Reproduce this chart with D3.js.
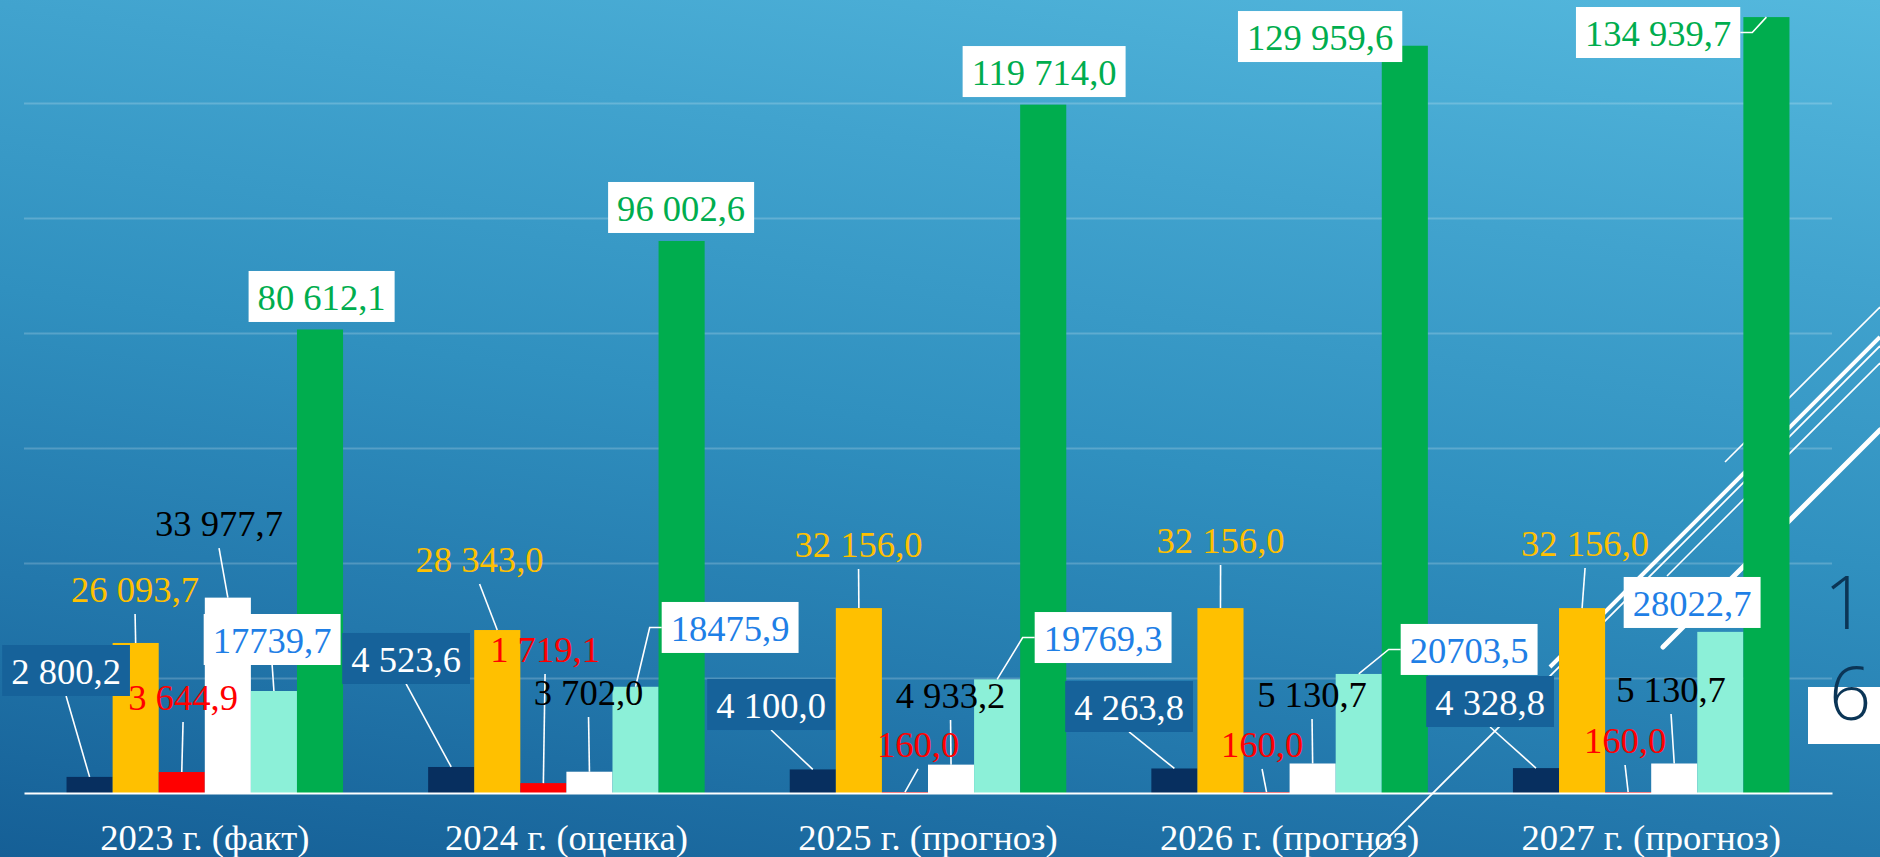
<!DOCTYPE html>
<html>
<head>
<meta charset="utf-8">
<script src="https://cdn.jsdelivr.net/npm/d3@7"></script>
<style>
html,body{margin:0;padding:0;overflow:hidden;background:#2a86b8;}
svg{display:block;}
</style>
</head>
<body>
<svg id="chart" width="1880" height="857"></svg>
<script>
// ---------------- DATA ----------------
const categories = ["2023 г. (факт)", "2024 г. (оценка)", "2025 г. (прогноз)", "2026 г. (прогноз)", "2027 г. (прогноз)"];
const seriesNavy   = [2800.2, 4523.6, 4100.0, 4263.8, 4328.8];
const seriesYellow = [26093.7, 28343.0, 32156.0, 32156.0, 32156.0];
const seriesRed    = [3644.9, 1719.1, 160.0, 160.0, 160.0];
const seriesWhite  = [33977.7, 3702.0, 4933.2, 5130.7, 5130.7];
const seriesMint   = [17739.7, 18475.9, 19769.3, 20703.5, 28022.7];
const seriesGreen  = [80612.1, 96002.6, 119714.0, 129959.6, 134939.7];
const gridTicks    = [20000, 40000, 60000, 80000, 100000, 120000];
const slideNumber  = ["1", "6"];

const seriesValues = [seriesNavy, seriesYellow, seriesRed, seriesWhite, seriesMint, seriesGreen];

// ---------------- STYLE / LAYOUT ----------------
const W = 1880, H = 857;
const barColors   = ["#072f5f", "#ffc000", "#ff0000", "#ffffff", "#8cf0d8", "#00ad4e"];
const labelColors = ["#ffffff", "#ffc000", "#ff0000", "#000000", "#1f7fe6", "#00ad4e"];
const boxColors   = ["#16629a", null, null, null, "#ffffff", "#ffffff"];
const FONT = "'Liberation Serif', 'Times New Roman', serif";
const FS = 36.6;

// label offsets relative to bar top centre: [dx, dy(baseline), leader type]
const labelLayout = [
  [[-23.5,-92.9,"v"], [-0.6,-41,"v"], [1.3,-62,"v"], [-8.8,-61.6,"v"], [-1.8,-38,"v"], [1.6,-19.5,""]],
  [[-45.1,-95,"v"], [-17.7,-58,"v"], [1.7,-121.1,"v"], [-0.9,-66.7,"v"], [94.6,-45.8,"L"], [-0.5,-20,""]],
  [[-41.7,-51.4,"v"], [-0.3,-51.1,"v"], [13.1,-35.1,"v"], [-0.5,-56.6,"v"], [106,-28.3,"L"], [0.9,-19.6,""]],
  [[-45.3,-48.5,"v"], [0.1,-55.1,"v"], [-4.5,-35.1,"v"], [-0.6,-56.5,"v"], [110.4,-11,"L"], [-84.7,4.3,""]],
  [[-45.9,-53.1,"v"], [3,-52.1,"v"], [-3.1,-39.1,"v"], [-3.2,-61.5,"v"], [-28.2,-15.9,""], [-108.3,28.9,"R"]]
];

const svg = d3.select("#chart");

// background gradient
const defs = svg.append("defs");
const grad = defs.append("linearGradient").attr("id", "bg")
  .attr("gradientUnits", "userSpaceOnUse")
  .attr("x1", 1880).attr("y1", 0).attr("x2", 1714).attr("y2", 1113);
[[0, "#54b8dd"], [0.25, "#41a3ce"], [0.5, "#3090bf"], [0.75, "#2378ac"], [1, "#155f96"]]
  .forEach(([o, c]) => grad.append("stop").attr("offset", o).attr("stop-color", c));
svg.append("rect").attr("width", W).attr("height", H).attr("fill", "url(#bg)");

// decorative theme lines (slope -1)
const decor = [
  {x1: 1725, y1: 462, x2: 1880, y2: 307, w: 1.6, cap: "butt"},
  {x1: 1550, y1: 667, x2: 1880, y2: 337, w: 4, cap: "butt"},
  {x1: 1369, y1: 857, x2: 1880, y2: 346, w: 1.8, cap: "butt"},
  {x1: 1667, y1: 576, x2: 1880, y2: 363, w: 1.6, cap: "butt"},
  {x1: 1663, y1: 647, x2: 1880, y2: 430, w: 5, cap: "round"}
];
svg.append("g").selectAll("line").data(decor).join("line")
  .attr("x1", d => d.x1).attr("y1", d => d.y1).attr("x2", d => d.x2).attr("y2", d => d.y2)
  .attr("stroke", "#ffffff").attr("stroke-width", d => d.w).attr("stroke-linecap", d => d.cap);

// scales
const x0 = d3.scaleBand().domain(categories).range([24, 1832]).paddingInner(0.2353).paddingOuter(0.11765);
const x1 = d3.scaleBand().domain(d3.range(seriesValues.length)).range([0, x0.bandwidth()]);
const y = d3.scaleLinear().domain([0, 140000]).range([793, -12]);

// gridlines
const grid = svg.append("g").attr("transform", "translate(24,0)")
  .call(d3.axisLeft(y).tickValues(gridTicks).tickSize(-1808).tickFormat(""));
grid.select(".domain").remove();
grid.selectAll("line").attr("stroke", "rgba(255,255,255,0.2)").attr("stroke-width", 2);

// bars
const groups = svg.append("g").selectAll("g").data(categories).join("g")
  .attr("transform", d => `translate(${x0(d)},0)`);
groups.selectAll("rect")
  .data((c, i) => seriesValues.map((vals, s) => ({s, v: vals[i]})))
  .join("rect")
  .attr("x", d => x1(d.s)).attr("width", x1.bandwidth())
  .attr("y", d => y(d.v)).attr("height", d => y(0) - y(d.v))
  .attr("fill", d => barColors[d.s]);

// category axis
const xAxis = svg.append("g").attr("transform", `translate(0,${y(0)})`)
  .call(d3.axisBottom(x0).tickSize(0).tickPadding(31));
xAxis.select(".domain").attr("stroke", "#ffffff").attr("stroke-width", 2);
xAxis.selectAll("text").attr("font-family", FONT).attr("font-size", FS).attr("fill", "#ffffff");

// data labels
const locale = d3.formatLocale({decimal: ",", thousands: " ", grouping: [3], currency: ["", ""]});
const fmtGroup = locale.format(",.1f");
const fmtPlain = locale.format(".1f");

const leaderLayer = svg.append("g");
const labelLayer = svg.append("g");
categories.forEach((c, g) => {
  seriesValues.forEach((vals, s) => {
    const v = vals[g];
    const bx = x0(c) + x1(s) + x1.bandwidth() / 2;
    const by = y(v);
    const [dx, dy, lead] = labelLayout[g][s];
    const cx = bx + dx, bl = by + dy;
    const lg = labelLayer.append("g");
    const box = lg.append("rect");
    const t = lg.append("text")
      .attr("x", cx).attr("y", bl).attr("text-anchor", "middle")
      .attr("font-family", FONT).attr("font-size", FS).attr("fill", labelColors[s])
      .text((s === 4 ? fmtPlain : fmtGroup)(v));
    const w = t.node().getComputedTextLength() + 18;
    if (boxColors[s]) {
      box.attr("x", cx - w / 2).attr("y", bl - 39).attr("width", w).attr("height", 51)
        .attr("fill", boxColors[s]);
    } else box.remove();
    let pts = null;
    const midY = bl - 13.5;
    if (lead === "v") pts = [[cx, bl + 12], [bx, by]];
    else if (lead === "L") pts = [[bx, by], [cx - w / 2 - 12, midY], [cx - w / 2, midY]];
    else if (lead === "R") pts = [[cx + w / 2, midY], [cx + w / 2 + 12, midY], [bx, by]];
    if (pts) {
      leaderLayer.append("path").attr("d", d3.line()(pts))
        .attr("fill", "none").attr("stroke", "#ffffff").attr("stroke-width", 1.6);
    }
  });
});

// slide number
svg.append("rect").attr("x", 1808).attr("y", 687).attr("width", 72).attr("height", 57).attr("fill", "#ffffff");
svg.append("g").selectAll("text").data(slideNumber).join("text")
  .attr("x", (d, i) => i === 0 ? 1845 : 1850)
  .attr("y", (d, i) => i === 0 ? 629 : 720)
  .attr("text-anchor", "middle")
  .attr("font-family", "'URW Gothic', 'Century Gothic', 'Open Sans', sans-serif")
  .attr("font-weight", 300)
  .attr("font-size", 74)
  .attr("fill", "#0b3556")
  .text(d => d);
</script>
</body>
</html>
